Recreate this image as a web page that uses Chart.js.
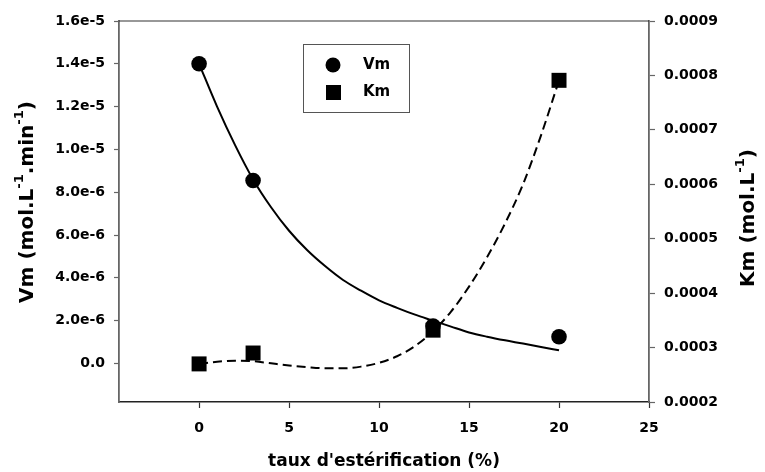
<!DOCTYPE html>
<html>
<head>
<meta charset="utf-8">
<script src="https://cdn.jsdelivr.net/npm/chart.js@4/dist/chart.umd.min.js"></script>
<style>
  html, body { margin: 0; padding: 0; background: #fff; }
  #wrap { width: 765px; height: 472px; }
</style>
</head>
<body>
<div id="wrap"><canvas id="chart" width="765" height="472"></canvas></div>
<script>
// Measured points
const esterif = [0, 3, 13, 20];
const vmValues = [1.40e-5, 8.55e-6, 1.75e-6, 1.25e-6];
const kmValues = [0.000270, 0.000290, 0.000332, 0.000791];

// Fitted curves
const fitX = [0, 1, 2, 3, 4, 5, 6, 7, 8, 9, 10, 11, 12, 13, 14, 15, 16, 17, 18, 19, 20];
const vmFit = [14.0e-6, 12.0e-6, 10.2e-6, 8.6e-6, 7.3e-6, 6.2e-6, 5.3e-6, 4.55e-6, 3.9e-6, 3.4e-6, 2.95e-6,
               2.6e-6, 2.28e-6, 2.0e-6, 1.72e-6, 1.45e-6, 1.25e-6, 1.08e-6, 0.93e-6, 0.77e-6, 0.62e-6];
const kmFit = [2.70e-4, 2.74e-4, 2.76e-4, 2.75e-4, 2.71e-4, 2.67e-4, 2.64e-4, 2.62e-4, 2.62e-4, 2.65e-4, 2.72e-4,
               2.84e-4, 3.03e-4, 3.30e-4, 3.66e-4, 4.12e-4, 4.66e-4, 5.28e-4, 6.00e-4, 6.90e-4, 7.91e-4];

// Ticks
const xTicks = [0, 5, 10, 15, 20, 25];
const vmTicks = [0, 2e-6, 4e-6, 6e-6, 8e-6, 1.0e-5, 1.2e-5, 1.4e-5, 1.6e-5];
const vmTickLabels = ["0.0", "2.0e-6", "4.0e-6", "6.0e-6", "8.0e-6", "1.0e-5", "1.2e-5", "1.4e-5", "1.6e-5"];
const kmTicks = [0.0002, 0.0003, 0.0004, 0.0005, 0.0006, 0.0007, 0.0008, 0.0009];
const kmTickLabels = ["0.0002", "0.0003", "0.0004", "0.0005", "0.0006", "0.0007", "0.0008", "0.0009"];

const FONT = '"DejaVu Sans", sans-serif';

function pts(xs, ys) {
    return xs.map((x, i) => ({ x: x, y: ys[i] }));
}

function setTicks(values) {
    return function (scale) {
        scale.ticks = values.map(v => ({ value: v }));
    };
}

// text with superscripts, centered on (cx, cy), optionally rotated
function drawRich(ctx, parts, cx, cy, rot, size) {
    const supSize = Math.round(size * 0.66);
    ctx.save();
    ctx.translate(cx, cy);
    ctx.rotate(rot);
    let total = 0;
    parts.forEach(p => {
        ctx.font = "bold " + (p.sup ? supSize : size) + "px " + FONT;
        p.w = ctx.measureText(p.t).width;
        total += p.w;
    });
    let x = -total / 2;
    ctx.fillStyle = "#000";
    ctx.textBaseline = "middle";
    ctx.textAlign = "left";
    parts.forEach(p => {
        ctx.font = "bold " + (p.sup ? supSize : size) + "px " + FONT;
        ctx.fillText(p.t, x, p.sup ? -size * 0.42 : 0);
        x += p.w;
    });
    ctx.restore();
}

const extras = {
    id: "extras",
    afterDraw(chart) {
        const ctx = chart.ctx;
        const a = chart.chartArea;

        // top frame line
        ctx.save();
        ctx.strokeStyle = "#333";
        ctx.lineWidth = 1.2;
        ctx.beginPath();
        ctx.moveTo(a.left, a.top);
        ctx.lineTo(a.right, a.top);
        ctx.stroke();
        ctx.restore();

        // axis titles
        ctx.save();
        ctx.font = "bold 17px " + FONT;
        ctx.fillStyle = "#000";
        ctx.textAlign = "center";
        ctx.textBaseline = "middle";
        ctx.fillText("taux d'estérification (%)", (a.left + a.right) / 2, 462);
        ctx.restore();

        drawRich(ctx, [
            { t: "Vm (mol.L" }, { t: "-1", sup: true },
            { t: ".min" }, { t: "-1", sup: true }, { t: ")" }
        ], 28, 202, -Math.PI / 2, 20);

        drawRich(ctx, [
            { t: "Km (mol.L" }, { t: "-1", sup: true }, { t: ")" }
        ], 749, 218, -Math.PI / 2, 20);

        // legend box
        const lx = 303, ly = 44, lw = 106, lh = 68;
        ctx.save();
        ctx.strokeStyle = "#555";
        ctx.lineWidth = 1;
        ctx.strokeRect(lx + 0.5, ly + 0.5, lw, lh);
        ctx.fillStyle = "#000";
        ctx.beginPath();
        ctx.arc(333, 65, 7.5, 0, Math.PI * 2);
        ctx.fill();
        ctx.fillRect(326, 85, 15, 15);
        ctx.font = "bold 15px " + FONT;
        ctx.textAlign = "left";
        ctx.textBaseline = "middle";
        ctx.fillText(chart.data.datasets[0].label, 363, 65);
        ctx.fillText(chart.data.datasets[1].label, 363, 92);
        ctx.restore();
    }
};

const tickFont = { family: FONT, size: 14, weight: "bold" };

new Chart(document.getElementById("chart").getContext("2d"), {
    type: "scatter",
    data: {
        datasets: [
            {
                label: "Vm",
                data: pts(esterif, vmValues),
                yAxisID: "y",
                pointStyle: "circle",
                pointRadius: 7.8,
                backgroundColor: "#000",
                borderColor: "#000",
                borderWidth: 0,
                showLine: false
            },
            {
                label: "Km",
                data: pts(esterif, kmValues),
                yAxisID: "y1",
                pointStyle: "rect",
                pointRadius: 10.6,
                backgroundColor: "#000",
                borderColor: "#000",
                borderWidth: 0,
                showLine: false
            },
            {
                label: "Vm fit",
                data: pts(fitX, vmFit),
                yAxisID: "y",
                showLine: true,
                pointRadius: 0,
                borderColor: "#000",
                borderWidth: 2,
                cubicInterpolationMode: "monotone"
            },
            {
                label: "Km fit",
                data: pts(fitX, kmFit),
                yAxisID: "y1",
                showLine: true,
                pointRadius: 0,
                borderColor: "#000",
                borderWidth: 2,
                borderDash: [9, 5],
                cubicInterpolationMode: "monotone"
            }
        ]
    },
    options: {
        responsive: false,
        animation: false,
        layout: { padding: { top: 21, left: 0, right: 0, bottom: 0 } },
        plugins: {
            legend: { display: false },
            tooltip: { enabled: false }
        },
        scales: {
            x: {
                type: "linear",
                position: "bottom",
                min: -4.45,
                max: 25,
                afterBuildTicks: setTicks(xTicks),
                afterFit(scale) { scale.height = 70; },
                ticks: {
                    font: tickFont,
                    color: "#000",
                    padding: 12,
                    maxRotation: 0,
                    callback: v => String(v)
                },
                grid: {
                    drawOnChartArea: false,
                    drawTicks: true,
                    tickLength: 6,
                    tickColor: "#333",
                    tickWidth: 1.2
                },
                border: { display: true, color: "#222", width: 1.5 }
            },
            y: {
                type: "linear",
                position: "left",
                min: -1.8e-6,
                max: 1.6e-5,
                afterBuildTicks: setTicks(vmTicks),
                afterFit(scale) { scale.width = 119; },
                ticks: {
                    font: tickFont,
                    color: "#000",
                    padding: 9,
                    callback: (v, i) => vmTickLabels[i]
                },
                grid: {
                    drawOnChartArea: false,
                    drawTicks: true,
                    tickLength: 5,
                    tickColor: "#666",
                    tickWidth: 1.2
                },
                border: { display: true, color: "#666", width: 1.8 }
            },
            y1: {
                type: "linear",
                position: "right",
                min: 0.0002,
                max: 0.0009,
                afterBuildTicks: setTicks(kmTicks),
                afterFit(scale) { scale.width = 116; },
                ticks: {
                    font: tickFont,
                    color: "#000",
                    padding: 9,
                    callback: (v, i) => kmTickLabels[i]
                },
                grid: {
                    drawOnChartArea: false,
                    drawTicks: true,
                    tickLength: 6,
                    tickColor: "#666",
                    tickWidth: 1.2
                },
                border: { display: true, color: "#666", width: 1.8 }
            }
        }
    },
    plugins: [extras]
});
</script>
</body>
</html>
